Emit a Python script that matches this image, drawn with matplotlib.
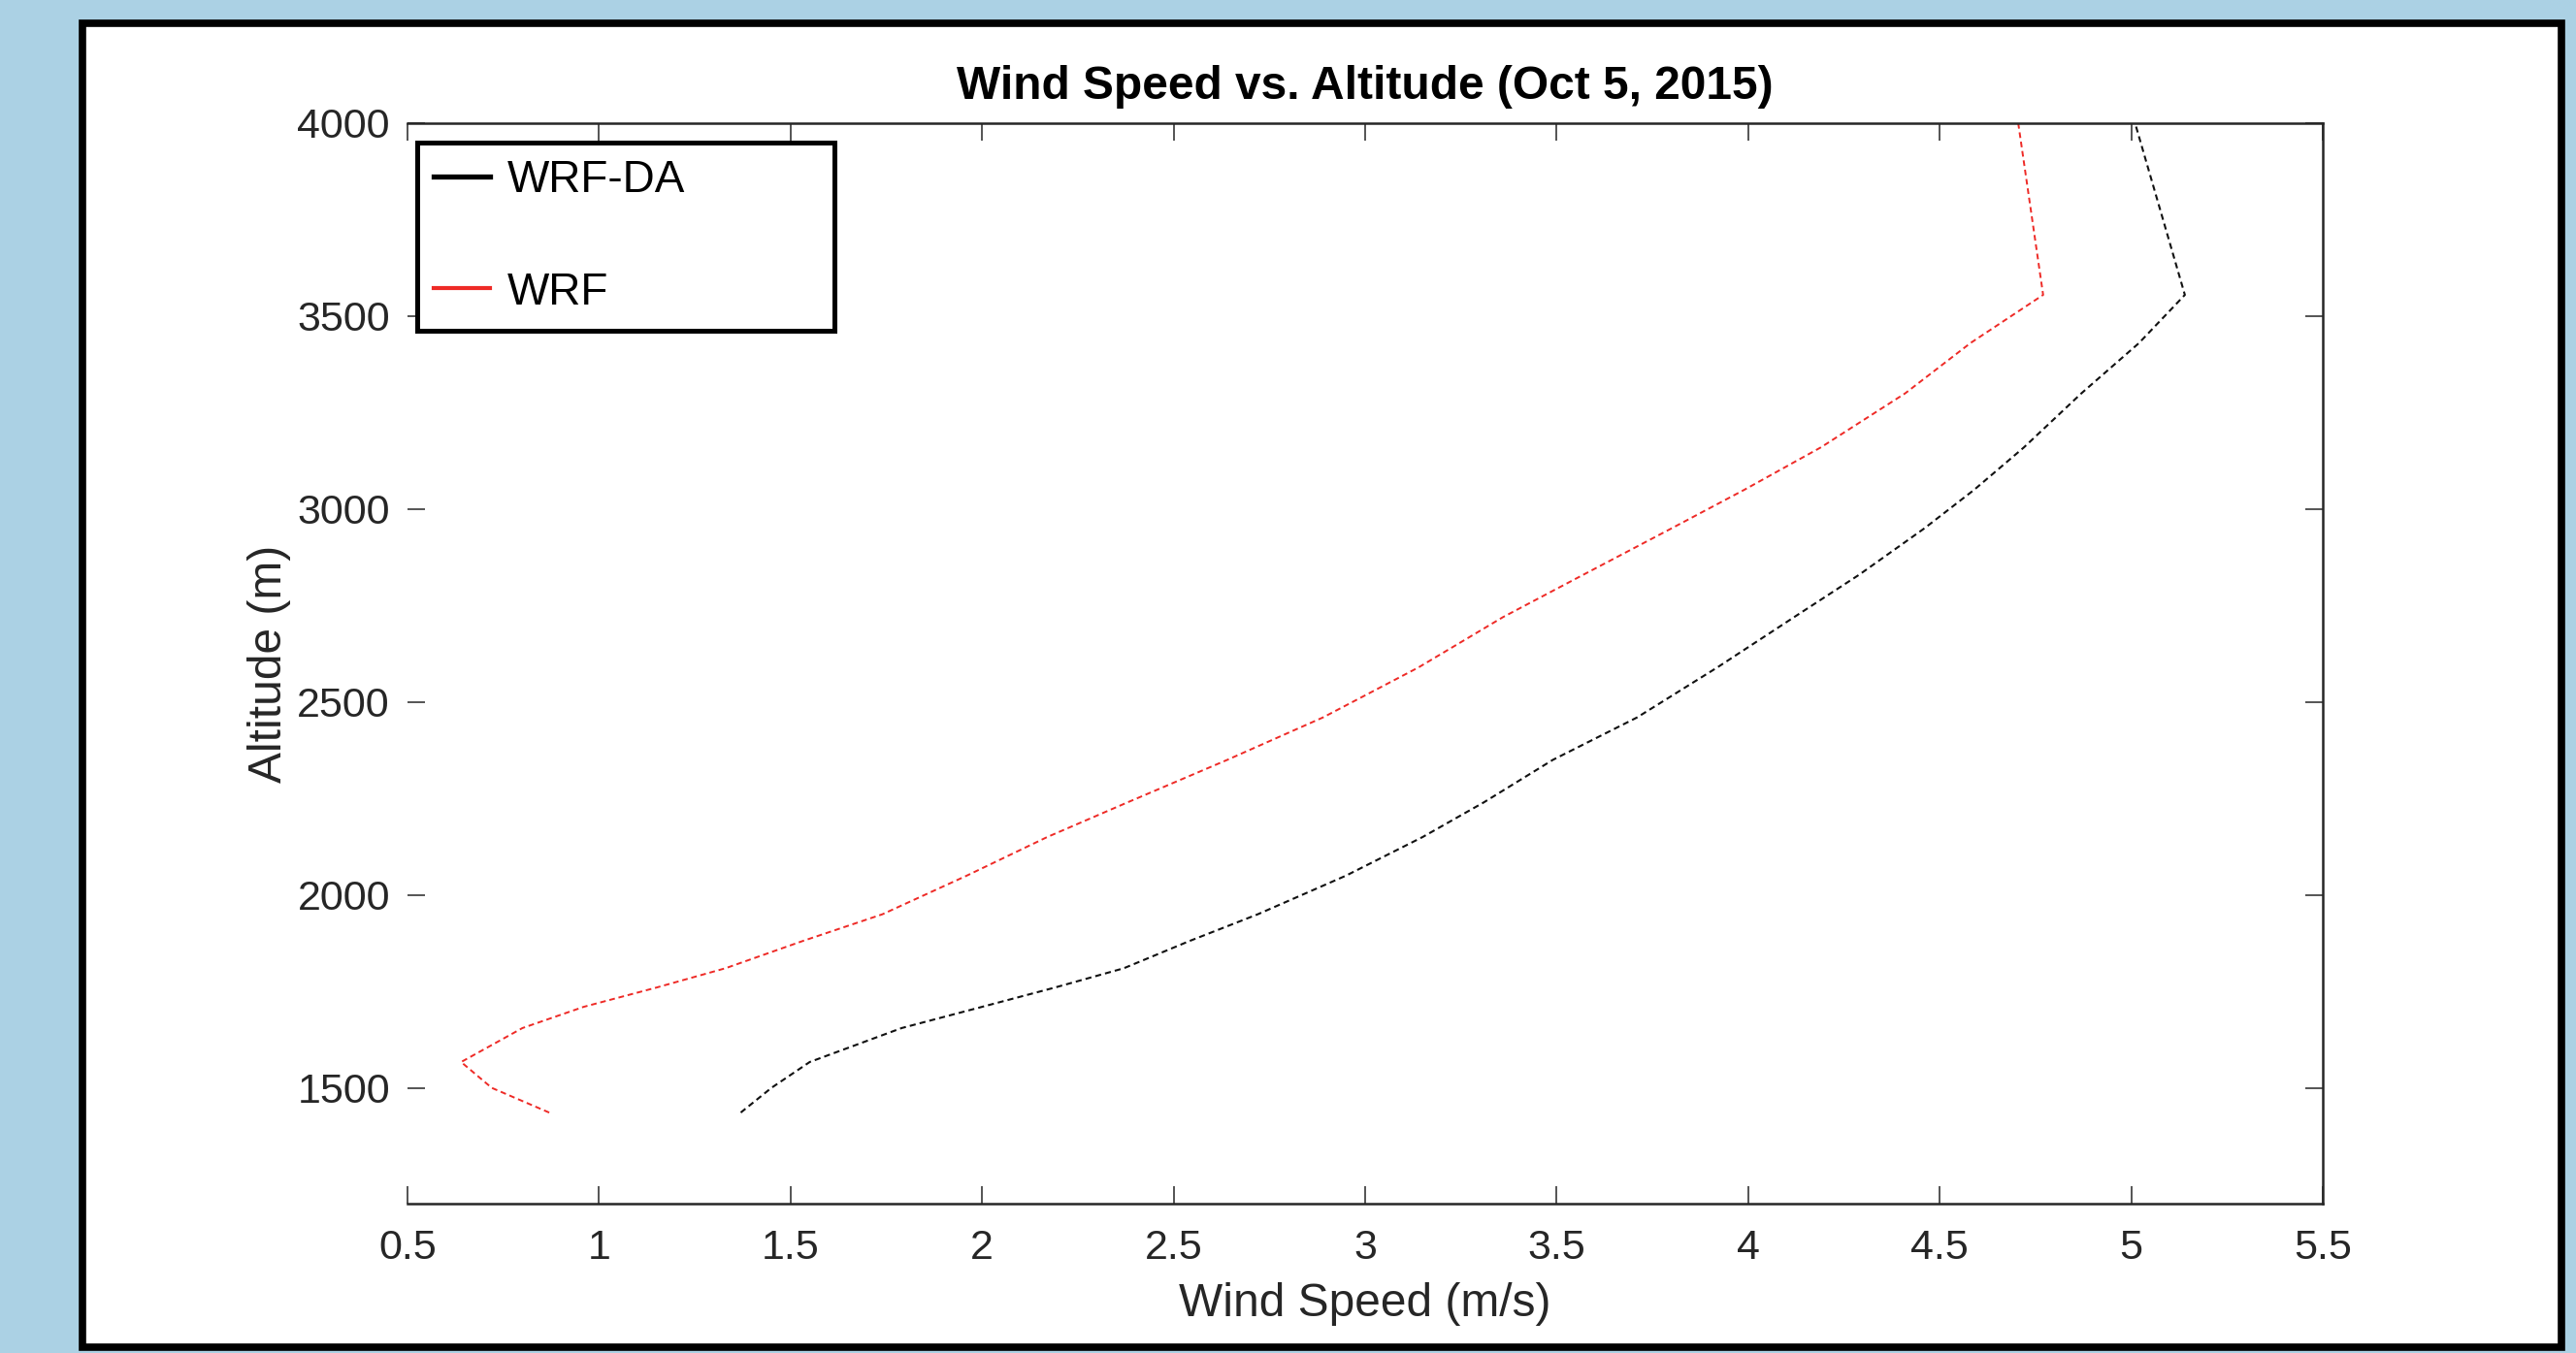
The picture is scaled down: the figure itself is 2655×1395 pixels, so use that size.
import matplotlib
matplotlib.use('Agg')
import matplotlib.pyplot as plt
from matplotlib.patches import Rectangle
from matplotlib.lines import Line2D

plt.rcParams['font.family'] = ['Liberation Sans', 'DejaVu Sans']

# ─── Data: wind speed profiles on the model levels ───────────────────────────
altitude_m = [1436, 1500, 1567, 1655, 1710, 1760, 1810, 1880, 1950, 2050,
              2150, 2240, 2350, 2460, 2590, 2720, 2830, 2950, 3050, 3160,
              3300, 3430, 3555, 4000]
wrf_da_speed = [1.37, 1.45, 1.55, 1.79, 2.00, 2.19, 2.37, 2.54, 2.72, 2.95,
                3.15, 3.31, 3.49, 3.71, 3.92, 4.12, 4.29, 4.46, 4.59, 4.72,
                4.87, 5.02, 5.14, 5.01]
wrf_speed = [0.87, 0.72, 0.64, 0.80, 0.96, 1.15, 1.33, 1.53, 1.74, 1.96,
             2.17, 2.38, 2.64, 2.89, 3.14, 3.36, 3.57, 3.80, 3.99, 4.19,
             4.41, 4.58, 4.77, 4.705]

x_ticks = [0.5, 1, 1.5, 2, 2.5, 3, 3.5, 4, 4.5, 5, 5.5]
x_ticklabels = ['0.5', '1', '1.5', '2', '2.5', '3', '3.5', '4', '4.5', '5', '5.5']
y_ticks = [1500, 2000, 2500, 3000, 3500, 4000]

# ─── Colours ─────────────────────────────────────────────────────────────────
C_BG = '#abd1e4'
C_AXIS = '#262626'
C_BLACK = '#111111'
C_RED = '#ee2a26'

W, H = 2655, 1395
fig = plt.figure(figsize=(W / 100, H / 100), dpi=100)
fig.patch.set_facecolor(C_BG)

# white panel with a heavy black frame, kept behind the axes
fig.patches.append(Rectangle((85 / W, 1 - 1389 / H), (2640 - 85) / W, (1389 - 24) / H,
                             transform=fig.transFigure, facecolor='white',
                             edgecolor='black', linewidth=5.5, zorder=-5))

ax = fig.add_axes([420 / W, 1 - 1241 / H, (2394 - 420) / W, (1241 - 127) / H])
ax.set_facecolor('white')

ax.plot(wrf_da_speed, altitude_m, color=C_BLACK, lw=1.5, linestyle=(0, (3, 2)))
ax.plot(wrf_speed, altitude_m, color=C_RED, lw=1.4, linestyle=(0, (3, 2)))

ax.set_xlim(0.5, 5.5)
ax.set_ylim(1200, 4000)
ax.set_xticks(x_ticks)
ax.set_xticklabels(x_ticklabels)
ax.set_yticks(y_ticks)

for side in ['top', 'bottom', 'right']:
    ax.spines[side].set_color(C_AXIS)
    ax.spines[side].set_linewidth(1.8)
ax.spines['left'].set_visible(False)

ax.tick_params(axis='both', direction='in', length=13, width=1.1, color=C_AXIS,
               labelcolor=C_AXIS, labelsize=31, top=True, right=True)
ax.tick_params(axis='x', pad=19)
ax.tick_params(axis='y', pad=13)

ax.set_title('Wind Speed vs. Altitude (Oct 5, 2015)', fontsize=34.5,
             fontweight='bold', color='black', pad=18)
ax.set_xlabel('Wind Speed (m/s)', fontsize=34.5, color=C_AXIS)
ax.set_ylabel('Altitude (m)', fontsize=34.5, color=C_AXIS)
ax.xaxis.set_label_coords(0.5, -0.073)
ax.yaxis.set_label_coords(-0.061, 0.5)

handles = [Line2D([], [], color='black', lw=3.8),
           Line2D([], [], color=C_RED, lw=3.0)]
leg = ax.legend(handles, ['WRF-DA', 'WRF'], loc='upper left',
                bbox_to_anchor=(0.005, 0.982, 0.218, 0), mode='expand',
                borderaxespad=0, fontsize=33, handlelength=1.25,
                handletextpad=0.4, borderpad=0.38, labelspacing=1.55,
                fancybox=False, framealpha=1, edgecolor='black')
leg.get_frame().set_linewidth(3.6)

fig.savefig('out.png', dpi=100, facecolor=C_BG)
